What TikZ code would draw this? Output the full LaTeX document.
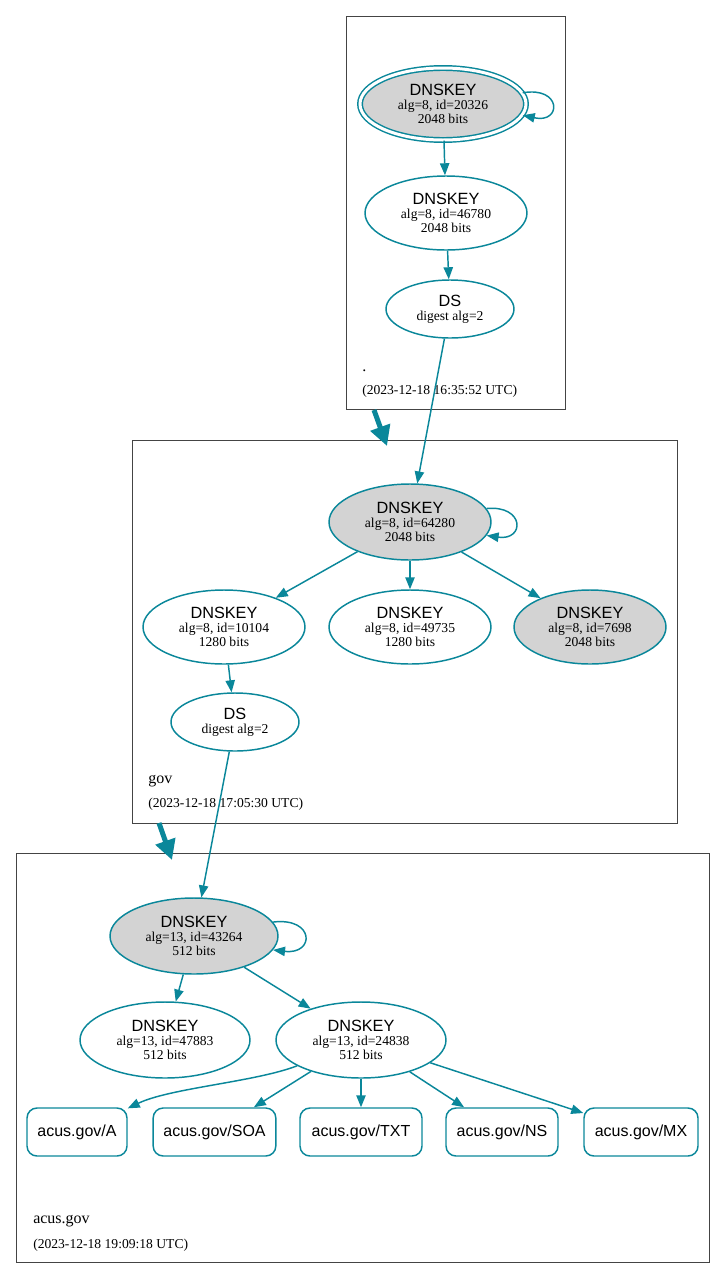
\documentclass[tikz,border=0pt]{standalone}
\usepackage{fontspec}
\setmainfont{Liberation Serif}
\setsansfont{Liberation Sans}
\usetikzlibrary{shapes.geometric,arrows.meta}
\definecolor{dnsteal}{HTML}{0A879A}
\definecolor{keygray}{HTML}{D3D3D3}
\definecolor{zoneline}{HTML}{444444}
\newcommand{\keytext}[3]{{\sffamily\fontsize{12.2}{12}\selectfont #1}\\[1.6pt]#2\\#3}
\newcommand{\dstext}[1]{{\sffamily\fontsize{12.2}{12}\selectfont DS}\\[1.6pt]#1}

\begin{document}
\begin{tikzpicture}[x=0.75pt,y=0.75pt,yscale=-1,xscale=1,
	keynode/.style={ellipse, draw=dnsteal, line width=1.1pt, fill=white, align=center, inner sep=0pt, font=\fontsize{10.2}{8.9}\selectfont, minimum width=121.5pt, minimum height=55.5pt},
	ksk/.style={keynode, fill=keygray},
	dsnode/.style={keynode, minimum width=96pt, minimum height=43.5pt},
	rrnode/.style={draw=dnsteal, line width=1.1pt, rounded corners=7.5pt, font=\sffamily\fontsize{12}{14}\selectfont, minimum height=36pt, inner sep=0pt},
	edge/.style={draw=dnsteal, line width=1.1pt, -{Triangle[length=9pt,width=7pt]}},
	zone/.style={draw=zoneline, line width=0.75pt},
	zonearrow/.style={draw=dnsteal, line width=3.75pt, -{Triangle[length=15pt,width=15pt]}},
	zonename/.style={anchor=base west, inner sep=0pt, font=\fontsize{12}{14}\selectfont},
	zonetime/.style={anchor=base west, inner sep=0pt, font=\fontsize{10.2}{12}\selectfont}]
	\useasboundingbox (0,0) rectangle (725,1278);

	\draw[zone] (346,16) rectangle (565,409);
	\draw[zone] (132,440) rectangle (677,823);
	\draw[zone] (16,853) rectangle (709,1262);

	\node[zonename] (rootname) at (362,371) {.};
	\node[zonetime] (roottime) at (362,394) {(2023-12-18 16:35:52 UTC)};
	\node[zonename] (govname) at (148,783) {gov};
	\node[zonetime] (govtime) at (148,807) {(2023-12-18 17:05:30 UTC)};
	\node[zonename] (acusname) at (33,1223) {acus.gov};
	\node[zonetime] (acustime) at (33,1248) {(2023-12-18 19:09:18 UTC)};

	\node[ksk, double=white, double distance=2.25pt, minimum width=124.5pt, minimum height=54pt] (k20326) at (443,104) {\keytext{DNSKEY}{alg=8, id=20326}{2048 bits}};
	\node[keynode] (k46780) at (446,213) {\keytext{DNSKEY}{alg=8, id=46780}{2048 bits}};
	\node[dsnode] (dsroot) at (450,309) {\dstext{digest alg=2}};

	\node[ksk, minimum height=57pt] (k64280) at (410,522) {\keytext{DNSKEY}{alg=8, id=64280}{2048 bits}};
	\node[keynode] (k10104) at (224,627) {\keytext{DNSKEY}{alg=8, id=10104}{1280 bits}};
	\node[keynode] (k49735) at (410,627) {\keytext{DNSKEY}{alg=8, id=49735}{1280 bits}};
	\node[ksk, minimum width=114pt] (k7698) at (590,627) {\keytext{DNSKEY}{alg=8, id=7698}{2048 bits}};
	\node[dsnode] (dsgov) at (235,722) {\dstext{digest alg=2}};

	\node[ksk, minimum width=126pt, minimum height=57pt] (k43264) at (194,936) {\keytext{DNSKEY}{alg=13, id=43264}{512 bits}};
	\node[keynode, minimum width=127.5pt, minimum height=57pt] (k47883) at (165,1040) {\keytext{DNSKEY}{alg=13, id=47883}{512 bits}};
	\node[keynode, minimum width=127.5pt, minimum height=57pt] (k24838) at (361,1040) {\keytext{DNSKEY}{alg=13, id=24838}{512 bits}};

	\node[rrnode, minimum width=75pt] (rrA) at (77,1132) {acus.gov/A};
	\node[rrnode, minimum width=92pt] (rrSOA) at (214.5,1132) {acus.gov/SOA};
	\node[rrnode, minimum width=91.5pt] (rrTXT) at (361,1132) {acus.gov/TXT};
	\node[rrnode, minimum width=84pt] (rrNS) at (502,1132) {acus.gov/NS};
	\node[rrnode, minimum width=85.5pt] (rrMX) at (641,1132) {acus.gov/MX};

	\draw[edge] (k20326.8) .. controls (562,86) and (562,124) .. (k20326.-8);
	\draw[edge] (k20326) -- (k46780);
	\draw[edge] (k46780) -- (dsroot);
	\draw[edge] (dsroot) -- (k64280);
	\draw[edge] (k64280.10) .. controls (525,505) and (525,541) .. (k64280.-10);
	\draw[edge] (k64280) -- (k10104);
	\draw[edge] (k64280) -- (k49735);
	\draw[edge] (k64280) -- (k7698);
	\draw[edge] (k10104) -- (dsgov);
	\draw[edge] (dsgov) -- (k43264);
	\draw[edge] (k43264.10) .. controls (315,917) and (315,955) .. (k43264.-10);
	\draw[edge] (k43264) -- (k47883);
	\draw[edge] (k43264) -- (k24838);
	\draw[edge] (k24838.202) .. controls (255,1082) and (170,1088) .. (rrA.25);
	\draw[edge] (k24838) -- (rrSOA);
	\draw[edge] (k24838) -- (rrTXT);
	\draw[edge] (k24838) -- (rrNS);
	\draw[edge] (k24838) -- (rrMX);

	\coordinate (rootexit) at (374,410);
	\coordinate (goventer) at (387,446);
	\coordinate (govexit) at (159,823);
	\coordinate (acusenter) at (172,860);
	\draw[zonearrow] (rootexit) -- (goventer);
	\draw[zonearrow] (govexit) -- (acusenter);
\end{tikzpicture}
\end{document}
